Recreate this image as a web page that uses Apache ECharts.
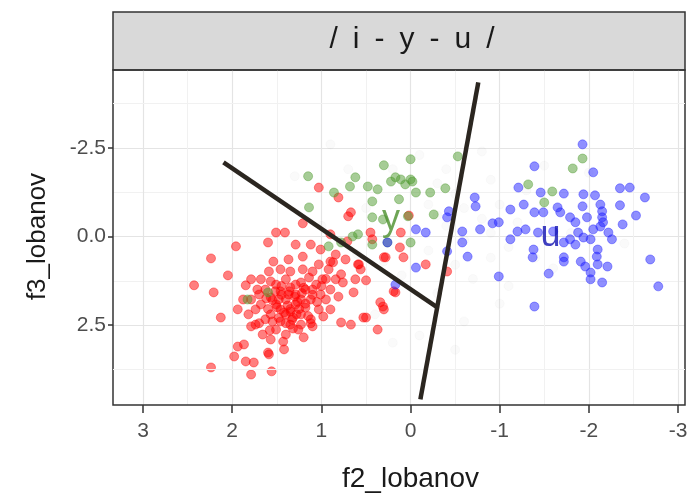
<!DOCTYPE html>
<html>
<head>
<meta charset="utf-8">
<script src="https://cdn.jsdelivr.net/npm/echarts@6/dist/echarts.min.js"></script>
<style>
  html, body { margin: 0; padding: 0; background: #fff; }
  #main { width: 692px; height: 499px; }
</style>
</head>
<body>
<div id="main"></div>
<script>
// [f2_lobanov, f3_lobanov]
var vowelI = [
  [1.03,-1.38],[0.81,-1.10],[0.70,-0.57],[1.21,-0.37],[1.51,-0.11],[1.41,-0.11],[1.60,0.17],[1.29,0.23],
  [1.12,0.23],[1.96,0.28],[2.24,0.62],[1.54,0.71],[1.37,0.65],[1.21,0.57],[2.05,1.10],[2.43,1.38],
  [2.21,1.58],[1.85,1.38],[1.72,1.50],[1.57,1.27],[1.94,2.06],[2.13,2.29],[1.79,2.54],[2.24,3.70],
  [1.79,3.90],[1.56,3.81],[1.94,3.11],[1.87,3.05],[1.98,3.39],[1.85,3.53],[1.76,3.56],[1.60,3.28],
  [1.42,3.19],[0.78,2.43],[0.67,2.49],[0.50,2.29],[0.37,2.63],[0.31,1.98],[0.30,2.06],[0.50,1.24],
  [0.64,1.58],[0.81,1.70],[0.90,0.71],[0.59,0.79],[0.71,0.14],[0.30,0.59],[0.17,1.58],[1.88,1.78],
  [1.59,3.33],[1.20,2.85],[0.98,2.26],[1.10,2.54],[0.67,-0.68],[0.45,-0.11],[0.43,0.08],[0.11,-0.11],
  [0.02,-0.59],[0.12,0.31],[0.28,0.59],[0.08,0.59],[-0.17,0.79],[0.34,1.86],[0.87,0.73],[0.58,0.79],
  [0.90,-0.06],[-0.41,0.99],[0.19,1.55],[0.53,2.29],[1.01,0.37],[0.84,0.51],[0.73,0.65],[0.92,0.93],
  [0.76,1.30],[0.62,1.21],[0.56,0.93],[1.03,0.79],
  [1.68,1.21],[1.63,1.50],[1.57,1.72],[1.51,1.36],[1.46,1.55],[1.40,1.21],[1.35,1.44],[1.29,1.64],
  [1.23,1.30],[1.18,1.50],[1.12,1.78],[1.06,1.36],[1.01,1.64],[1.40,1.78],[1.46,2.06],[1.35,2.12],
  [1.29,1.92],[1.23,2.20],[1.18,2.01],[1.12,2.34],[1.51,1.92],[1.57,2.20],[1.63,2.34],[1.68,1.92],
  [1.74,2.06],[1.46,2.40],[1.35,2.49],[1.26,2.63],[1.40,2.77],[1.51,2.63],[1.66,2.77],[1.57,2.91],
  [1.43,2.97],[1.32,2.29],[1.23,1.78],[1.03,2.06],[0.95,1.78],[0.99,1.21],[1.10,0.99],[1.21,0.93],
  [1.35,0.99],[1.46,0.93],[1.59,0.99],[1.70,1.64],[1.79,1.78],[1.82,2.20],[1.74,2.49],[1.37,1.64],
  [1.48,1.78],[1.29,1.36],[1.14,1.16],[1.40,2.20],[1.55,2.40],[1.23,2.49],[1.10,1.50],[0.90,1.50],
  [0.84,1.21],[0.78,1.07],[0.90,2.06],[1.79,1.21],
  [1.30,1.70],[1.38,1.95],[1.45,1.65],[1.25,2.05],[1.33,2.35],[1.42,2.15],[1.20,1.45],[1.50,2.00],
  [1.27,1.85],[1.36,1.55],[1.18,1.90],[1.55,1.80],[1.40,2.45],[1.15,2.25],[1.32,2.60],[1.48,2.30],
  [1.60,2.05],[1.22,1.60],[1.05,1.85],[1.10,1.65],[1.45,1.40],[1.35,2.05],[1.28,2.20],[1.52,1.55],
  [1.62,1.75],[1.00,1.40],[0.95,1.20],[1.70,2.45],[1.58,2.65],[1.12,2.45]
];
var vowelY = [
  [1.15,-1.70],[1.14,-0.82],[0.62,-1.67],[0.68,-1.41],[0.86,-1.24],[0.30,-2.01],[0.00,-2.18],[0.48,-1.41],
  [0.37,-1.33],[0.22,-1.55],[0.11,-1.61],[0.00,-1.61],[-0.06,-1.24],[-0.22,-1.24],[-0.39,-1.36],[-0.53,-2.26],
  [0.43,-0.99],[0.13,-1.05],[-0.26,-0.62],[0.43,-0.54],[0.31,-0.48],[0.00,0.17],[0.26,0.17],[0.65,0.00],
  [0.78,0.17],[0.43,0.23],[0.03,-0.57],[-0.02,-1.55],[-1.82,-1.92],[-1.93,-2.20],[-1.59,-1.27],[-1.50,-0.96],
  [-1.32,-1.47],[0.59,-0.06],[0.92,0.28],[0.17,-1.67],[0.06,-1.47],[1.83,1.78],[1.60,1.58]
];
var vowelU = [
  [-1.93,-2.60],[-1.39,-1.98],[-2.05,-1.81],[-1.21,-1.38],[-1.46,-1.24],[-1.72,-1.21],[-1.94,-1.19],[-2.07,-1.16],
  [-2.35,-1.36],[-2.46,-1.38],[-2.63,-1.10],[-0.72,-1.10],[-0.73,-0.85],[-1.12,-0.76],[-1.27,-0.90],[-1.39,-0.68],
  [-1.49,-0.68],[-1.65,-0.82],[-1.68,-0.68],[-1.93,-0.85],[-2.13,-0.90],[-2.15,-0.71],[-2.35,-0.88],[-2.53,-0.59],
  [-0.43,-0.71],[-0.41,-0.54],[-0.06,-0.20],[-0.17,-0.11],[-0.58,-0.14],[-0.78,-0.20],[-0.92,-0.37],[-0.99,-0.40],
  [-1.12,0.08],[-1.20,-0.14],[-1.29,-0.20],[-1.43,-0.11],[-1.60,-0.14],[-1.79,-0.54],[-1.85,-0.40],[-1.98,-0.54],
  [-2.05,-0.20],[-2.13,-0.28],[-2.22,-0.11],[-2.38,-0.34],[-1.88,-0.11],[-1.94,0.03],[-1.72,0.17],[-0.58,0.17],
  [-0.41,0.42],[-0.64,0.57],[-1.38,0.37],[-1.37,0.59],[-1.72,0.59],[-0.06,0.88],[-0.99,1.13],[-1.55,1.05],
  [-1.91,0.71],[-1.96,0.85],[-2.02,1.02],[-2.02,1.21],[-2.10,0.79],[-2.21,0.85],[-2.15,1.30],[-2.69,0.65],
  [-2.78,1.41],[-1.39,1.98],[0.17,1.36],[-1.79,0.08],[-2.10,0.37],[-2.02,0.08],[-2.15,-0.54],[-2.16,-0.40],
  [-1.72,0.71],[-2.09,0.57],[0.26,0.17],[-2.26,0.08],[-1.85,0.23]
];
var otherVowels = [
  [0.2,-1.9],[-0.1,-2.3],[-0.3,-1.5],[-0.5,-1.2],[-0.6,-0.8],[-0.8,-0.5],[-0.9,-1.6],[-1.0,-0.9],
  [-0.4,-0.3],[-0.2,0.4],[-0.5,0.8],[-0.7,1.2],[-0.9,0.6],[-1.1,0.3],[-1.2,-0.4],[-1.3,-1.3],
  [-1.5,-2.0],[-1.6,0.9],[-0.3,1.6],[0.1,1.1],[0.3,0.7],[0.5,-0.8],[0.7,-1.9],[0.9,-2.6],
  [0.4,2.2],[-0.1,2.8],[-0.6,2.4],[-1.0,1.9],[-0.2,-0.9],[-0.8,-2.4],[-1.4,0.6],[-1.8,-0.1],
  [-0.4,-1.9],[0.0,0.2],[-0.6,0.1],[-0.9,-0.1],[-0.3,-0.6],[0.6,0.5],[1.0,-0.3],[-1.1,1.4],
  [-0.5,3.2],[0.2,3.0],[1.3,-1.7],[-2.0,-1.8],[-2.4,0.2]
];
// hand drawn boundaries
var boundaryIY = [[2.10,-2.09],[-0.30,2.00]];
var boundaryYU = [[-0.76,-4.35],[-0.11,4.60]];
var vowelLabels = [
  { name: 'y', value: [0.22,-0.45], color: '#4a8f2a' },
  { name: 'u', value: [-1.57,-0.02], color: '#1010b0' }
];
// panel range (ggplot expanded) and the tick layout
var xRange = [-3.08, 3.34];
var yRange = [-4.70, 4.76];
var xTickRange = [-3, 3];
var yTickRange = [-2.5, 2.5];
var yOuterMinor = [-3.75, 3.75];

var chart = echarts.init(document.getElementById('main'));

function dots(name, data, color, op) {
  return {
    name: name, type: 'scatter', data: data, symbolSize: 9,
    xAxisIndex: 0, yAxisIndex: 0,
    itemStyle: { color: color, opacity: op, borderColor: color, borderWidth: 0.8 },
    silent: true
  };
}

var majorLine = { color: '#e4e4e4', width: 1.2 };
var minorLine = { color: '#f1f1f1', width: 1 };
var tickStyle = { color: '#333', width: 1.5 };
var hiddenAxis = {
  type: 'value', min: 0, max: 1,
  axisLine: { show: false }, axisTick: { show: false }, axisLabel: { show: false }, splitLine: { show: false }
};

chart.setOption({
  backgroundColor: '#fff',
  animation: false,
  textStyle: { fontFamily: 'Liberation Sans' },
  grid: [
    // data panel
    { left: 113, right: 7, top: 70, bottom: 94, show: true, borderColor: '#333', borderWidth: 1.5,
      backgroundColor: 'transparent', z: 3 },
    // x ticks at -3..3
    { left: 143, right: 14, top: 70, bottom: 94 },
    // y ticks at -2.5..2.5
    { left: 113, right: 7, top: 148, bottom: 174 }
  ],
  graphic: [
    { type: 'rect', shape: { x: 113, y: 12, width: 572, height: 58 },
      style: { fill: '#d9d9d9', stroke: '#333', lineWidth: 1.5 } },
    { type: 'text', x: 412, y: 40,
      style: { text: '/\u2002i\u2002-\u2002y\u2002-\u2002u\u2002/', fill: '#1a1a1a', font: '30px Liberation Sans',
        textAlign: 'center', textVerticalAlign: 'middle' } }
  ],
  xAxis: [
    { gridIndex: 0, type: 'value', inverse: true, min: xRange[0], max: xRange[1],
      axisLine: { show: false }, axisTick: { show: false }, axisLabel: { show: false },
      splitLine: { show: false } },
    { gridIndex: 1, type: 'value', inverse: true, min: xTickRange[0], max: xTickRange[1], interval: 1,
      name: 'f2_lobanov', nameLocation: 'middle', nameGap: 60,
      nameTextStyle: { fontSize: 28, color: '#1a1a1a' },
      axisLine: { show: false },
      axisTick: { show: true, length: 8, lineStyle: tickStyle },
      axisLabel: { color: '#4d4d4d', fontSize: 21, margin: 16 },
      splitLine: { show: true, lineStyle: majorLine },
      minorTick: { show: false, splitNumber: 2 },
      minorSplitLine: { show: true, lineStyle: minorLine } },
    Object.assign({ gridIndex: 2 }, hiddenAxis)
  ],
  yAxis: [
    { gridIndex: 0, type: 'value', inverse: true, min: yRange[0], max: yRange[1],
      axisLine: { show: false }, axisTick: { show: false }, axisLabel: { show: false },
      splitLine: { show: false } },
    Object.assign({ gridIndex: 1 }, hiddenAxis),
    { gridIndex: 2, type: 'value', inverse: true, min: yTickRange[0], max: yTickRange[1], interval: 2.5,
      name: 'f3_lobanov', nameLocation: 'middle', nameGap: 62, nameRotate: 90,
      nameTextStyle: { fontSize: 26, color: '#1a1a1a' },
      axisLine: { show: false },
      axisTick: { show: true, length: 5, lineStyle: tickStyle },
      axisLabel: { color: '#4d4d4d', fontSize: 21, margin: 7,
        formatter: function (v) { return v.toFixed(1); } },
      splitLine: { show: true, lineStyle: majorLine },
      minorTick: { show: false, splitNumber: 2 },
      minorSplitLine: { show: true, lineStyle: minorLine } }
  ],
  series: [
    { type: 'scatter', data: [], xAxisIndex: 1, yAxisIndex: 1 },
    { type: 'scatter', data: [], xAxisIndex: 2, yAxisIndex: 2 },
    { type: 'scatter', data: [], xAxisIndex: 0, yAxisIndex: 0,
      markLine: { silent: true, symbol: 'none', animation: false, label: { show: false },
        lineStyle: { color: minorLine.color, width: 1, type: 'solid' },
        data: yOuterMinor.map(function (v) { return { yAxis: v }; }) } },
    dots('other', otherVowels, '#9a9a9a', 0.05),
    dots('i', vowelI, '#ff0000', 0.5),
    dots('y', vowelY, '#4d9a2e', 0.5),
    dots('u', vowelU, '#2020ff', 0.5),
    {
      type: 'scatter', data: vowelLabels, symbolSize: 0, silent: true, z: 5,
      xAxisIndex: 0, yAxisIndex: 0,
      label: {
        show: true, position: 'inside', fontSize: 36,
        formatter: function (p) { return p.name; },
        color: 'inherit'
      },
      itemStyle: { color: function (p) { return p.data.color; } }
    },
    { type: 'line', data: boundaryIY, symbol: 'none', silent: true, z: 6, xAxisIndex: 0, yAxisIndex: 0,
      lineStyle: { color: '#2b2620', width: 4.5 } },
    { type: 'line', data: boundaryYU, symbol: 'none', silent: true, z: 6, xAxisIndex: 0, yAxisIndex: 0,
      lineStyle: { color: '#2b2620', width: 4.5 } }
  ]
});
</script>
</body>
</html>
